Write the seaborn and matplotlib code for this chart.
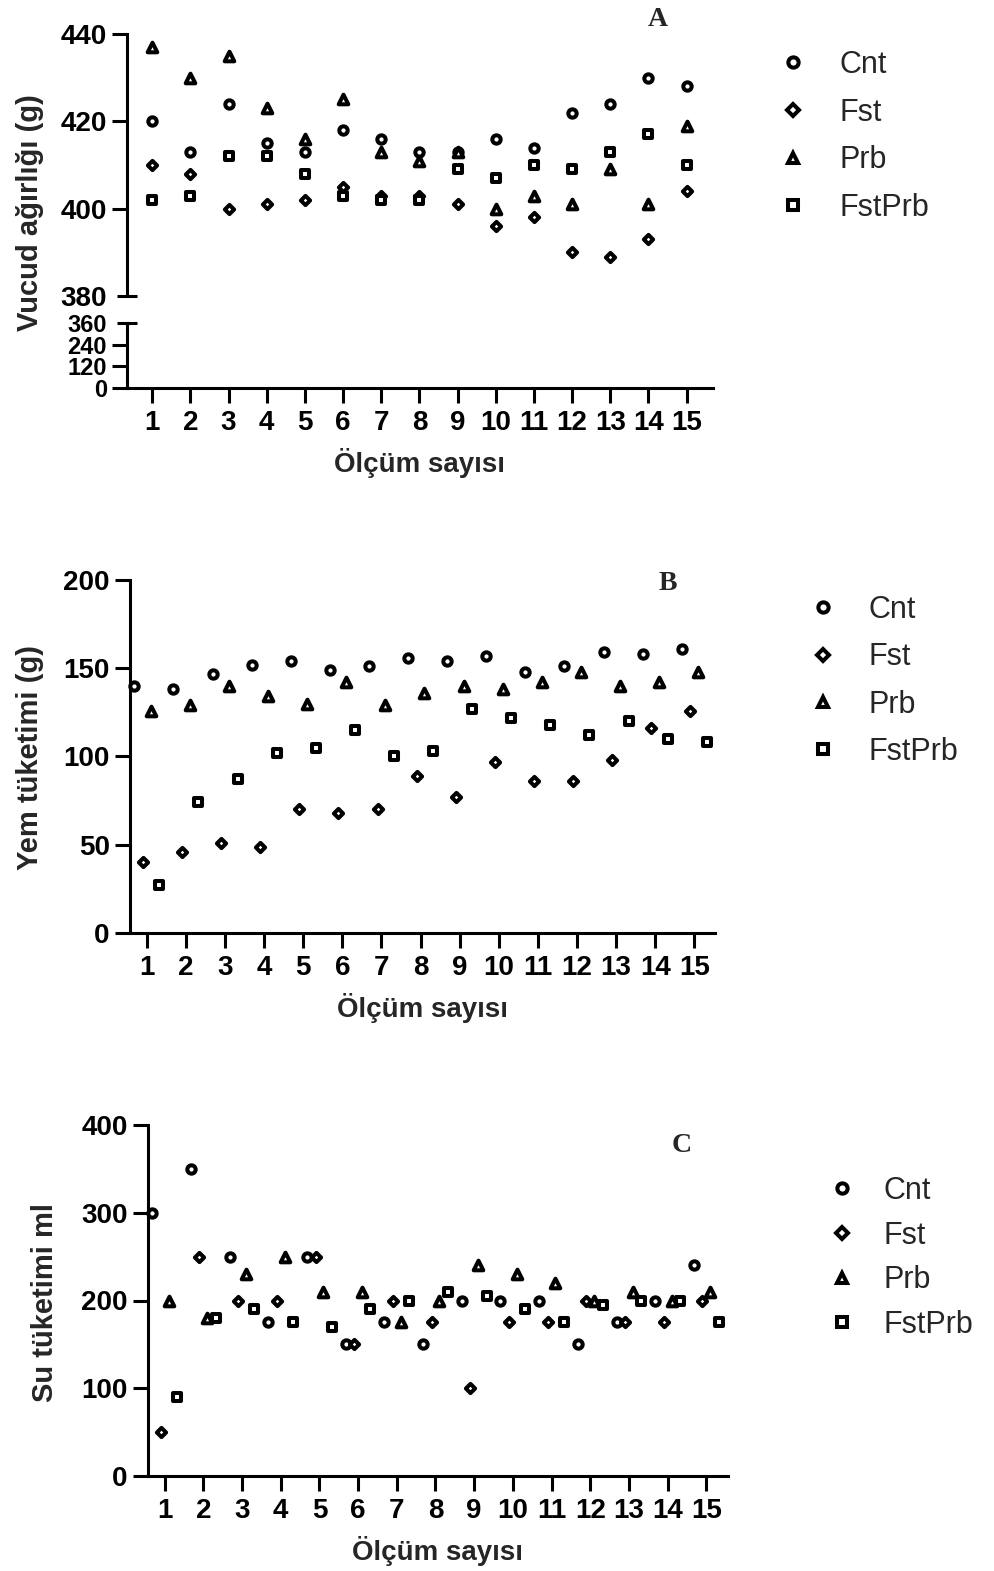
import numpy as np
import pandas as pd
import matplotlib
matplotlib.use("Agg")
import matplotlib.pyplot as plt
from matplotlib.lines import Line2D
import seaborn as sns

# ── Data ───────────────────────────────────────────────
GROUPS = ["Cnt", "Fst", "Prb", "FstPrb"]
OLCUM = list(range(1, 16))

# A: body weight (g)
A_CNT = [420, 413, 424, 415, 413, 418, 416, 413, 413, 416, 414, 422, 424, 430, 428]
A_FST = [410, 408, 400, 401, 402, 405, 403, 403, 401, 396, 398, 390, 389, 393, 404]
A_PRB = [437, 430, 435, 423, 416, 425, 413, 411, 413, 400, 403, 401, 409, 401, 419]
A_FSTPRB = [402, 403, 412, 412, 408, 403, 402, 402, 409, 407, 410, 409, 413, 417, 410]

# B: feed intake (g)
B_CNT = [140, 138, 147, 152, 154, 149, 151, 156, 154, 157, 148, 151, 159, 158, 161]
B_FST = [40, 46, 51, 49, 70, 68, 70, 89, 77, 97, 86, 86, 98, 116, 126]
B_PRB = [126, 129, 140, 134, 130, 142, 129, 136, 140, 138, 142, 148, 140, 142, 148]
B_FSTPRB = [27, 74, 87, 102, 105, 115, 100, 103, 127, 122, 118, 112, 120, 110, 108]

# C: water intake (ml)
C_CNT = [300, 350, 250, 175, 250, 150, 175, 150, 200, 200, 200, 150, 175, 200, 240]
C_FST = [50, 250, 200, 200, 250, 150, 200, 175, 100, 175, 175, 200, 175, 175, 200]
C_PRB = [200, 180, 230, 250, 210, 210, 175, 200, 240, 230, 220, 200, 210, 200, 210]
C_FSTPRB = [90, 180, 190, 175, 170, 190, 200, 210, 205, 190, 175, 195, 200, 200, 175]

# ── Style ──────────────────────────────────────────────
sns.set_style("ticks")
plt.rcParams.update({
    "font.family": ["Liberation Sans", "DejaVu Sans"],
    "axes.linewidth": 2.2,
    "xtick.major.width": 2.2,
    "ytick.major.width": 2.2,
    "xtick.major.size": 10.5,
    "ytick.major.size": 10.5,
    "xtick.major.pad": 5,
    "ytick.major.pad": 4,
    "xtick.color": "black",
    "ytick.color": "black",
    "axes.edgecolor": "black",
})
MARKERS = {"Cnt": "o", "Fst": "D", "Prb": "^", "FstPrb": "s"}
SIZES = {"Cnt": 36, "Fst": 22, "Prb": 48, "FstPrb": 38}
DODGE = {"Cnt": -0.32, "Fst": -0.1, "Prb": 0.1, "FstPrb": 0.32}
EDGE_W = 2.9
TICK_FS = 20
BREAK_FS = 17
LABEL_FS = 20
YLABEL_FS = 21
LEG_FS = 22


def long_df(series):
    rows = []
    for g, vals in zip(GROUPS, series):
        for o, v in zip(OLCUM, vals):
            rows.append({"olcum": o, "group": g, "value": v})
    return pd.DataFrame(rows)


def draw_points(ax, df, dodge=True):
    for g in GROUPS:
        sub = df[df["group"] == g].copy()
        sub["xpos"] = sub["olcum"] + (DODGE[g] if dodge else 0.0)
        sns.scatterplot(data=sub, x="xpos", y="value", marker=MARKERS[g],
                        s=SIZES[g], color="black", facecolor="white",
                        edgecolor="black", linewidth=EDGE_W, ax=ax,
                        legend=False, clip_on=False, zorder=3)


def style_x(ax, xlim):
    ax.set_xlim(*xlim)
    ax.set_xticks(OLCUM)
    ax.set_xticklabels([str(o) for o in OLCUM], fontsize=TICK_FS, fontweight="bold")
    ax.set_xlabel("Ölçüm sayısı", fontsize=LABEL_FS, fontweight="bold", labelpad=9)


def add_legend(fig, x, y, spacing, textpad):
    handles = [Line2D([], [], marker=MARKERS[g], linestyle="none",
                      markersize=6.0 if g == "Fst" else 7.4,
                      markerfacecolor="white", markeredgecolor="black", markeredgewidth=EDGE_W)
               for g in GROUPS]
    fig.legend(handles, GROUPS, loc="upper left", bbox_to_anchor=(x, y),
               frameon=False, fontsize=LEG_FS, handlelength=1.0, handletextpad=textpad,
               labelspacing=spacing, borderpad=0, borderaxespad=0)


fig = plt.figure(figsize=(9.95, 15.71), dpi=100)
W, H = 995, 1571


def px_axes(left, right, top, bottom):
    return fig.add_axes([left / W, 1 - bottom / H, (right - left) / W, (bottom - top) / H])


def bold_ticks(ax, size=TICK_FS):
    for lab in ax.get_yticklabels():
        lab.set_fontweight("bold")
        lab.set_fontsize(size)


# ── Panel A (broken y axis) ────────────────────────────
dfA = long_df([A_CNT, A_FST, A_PRB, A_FSTPRB])
axA_top = px_axes(127, 713, 34, 296)
axA_bot = px_axes(127, 713, 323, 388)
draw_points(axA_top, dfA, dodge=False)
axA_top.set_ylim(380, 440)
axA_top.set_yticks([380, 400, 420, 440])
axA_top.set_xlim(0.34, 15.69)
axA_top.set_xticks([])
axA_top.set_xlabel("")
axA_top.set_ylabel("")
for s in ["top", "right", "bottom"]:
    axA_top.spines[s].set_visible(False)
bold_ticks(axA_top)

axA_bot.set_ylim(0, 360)
axA_bot.set_yticks([0, 120, 240, 360])
style_x(axA_bot, (0.34, 15.69))
axA_bot.set_ylabel("")
for s in ["top", "right"]:
    axA_bot.spines[s].set_visible(False)
bold_ticks(axA_bot, BREAK_FS)

# break caps: centred ticks at 380 and 360
for ax, val in [(axA_top, 380), (axA_bot, 360)]:
    for t in ax.yaxis.get_major_ticks():
        if abs(t.get_loc() - val) < 1e-6:
            t.tick1line.set_marker("_")
            t.tick1line.set_markersize(14.5)

fig.text(30 / W, 1 - 213 / H, "Vucud ağırlığı (g)", rotation=90, ha="center", va="center",
         fontsize=YLABEL_FS, fontweight="bold")
fig.text(658 / W, 1 - 20 / H, "A", ha="center", va="center", fontsize=20,
         fontweight="bold", family="Liberation Serif")
add_legend(fig, 778 / W, 1 - 50 / H, 0.58, 1.0)

# ── Panel B ────────────────────────────────────────────
dfB = long_df([B_CNT, B_FST, B_PRB, B_FSTPRB])
axB = px_axes(130, 715, 580, 933)
draw_points(axB, dfB)
axB.set_ylim(0, 200)
axB.set_yticks([0, 50, 100, 150, 200])
style_x(axB, (0.57, 15.53))
axB.set_ylabel("")
for s in ["top", "right"]:
    axB.spines[s].set_visible(False)
bold_ticks(axB)
fig.text(30 / W, 1 - 757 / H, "Yem tüketimi (g)", rotation=90, ha="center", va="center",
         fontsize=YLABEL_FS, fontweight="bold")
fig.text(668 / W, 1 - 583 / H, "B", ha="center", va="center", fontsize=20,
         fontweight="bold", family="Liberation Serif")
add_legend(fig, 808 / W, 1 - 595 / H, 0.565, 0.97)

# ── Panel C ────────────────────────────────────────────
dfC = long_df([C_CNT, C_FST, C_PRB, C_FSTPRB])
axC = px_axes(148, 728, 1125, 1476)
draw_points(axC, dfC)
axC.set_ylim(0, 400)
axC.set_yticks([0, 100, 200, 300, 400])
style_x(axC, (0.57, 15.56))
axC.set_ylabel("")
for s in ["top", "right"]:
    axC.spines[s].set_visible(False)
bold_ticks(axC)
fig.text(45 / W, 1 - 1302 / H, "Su tüketimi ml", rotation=90, ha="center", va="center",
         fontsize=YLABEL_FS, fontweight="bold")
fig.text(682 / W, 1 - 1145 / H, "C", ha="center", va="center", fontsize=20,
         fontweight="bold", family="Liberation Serif")
add_legend(fig, 827 / W, 1 - 1176 / H, 0.48, 0.84)

fig.savefig("out.png", dpi=100)
